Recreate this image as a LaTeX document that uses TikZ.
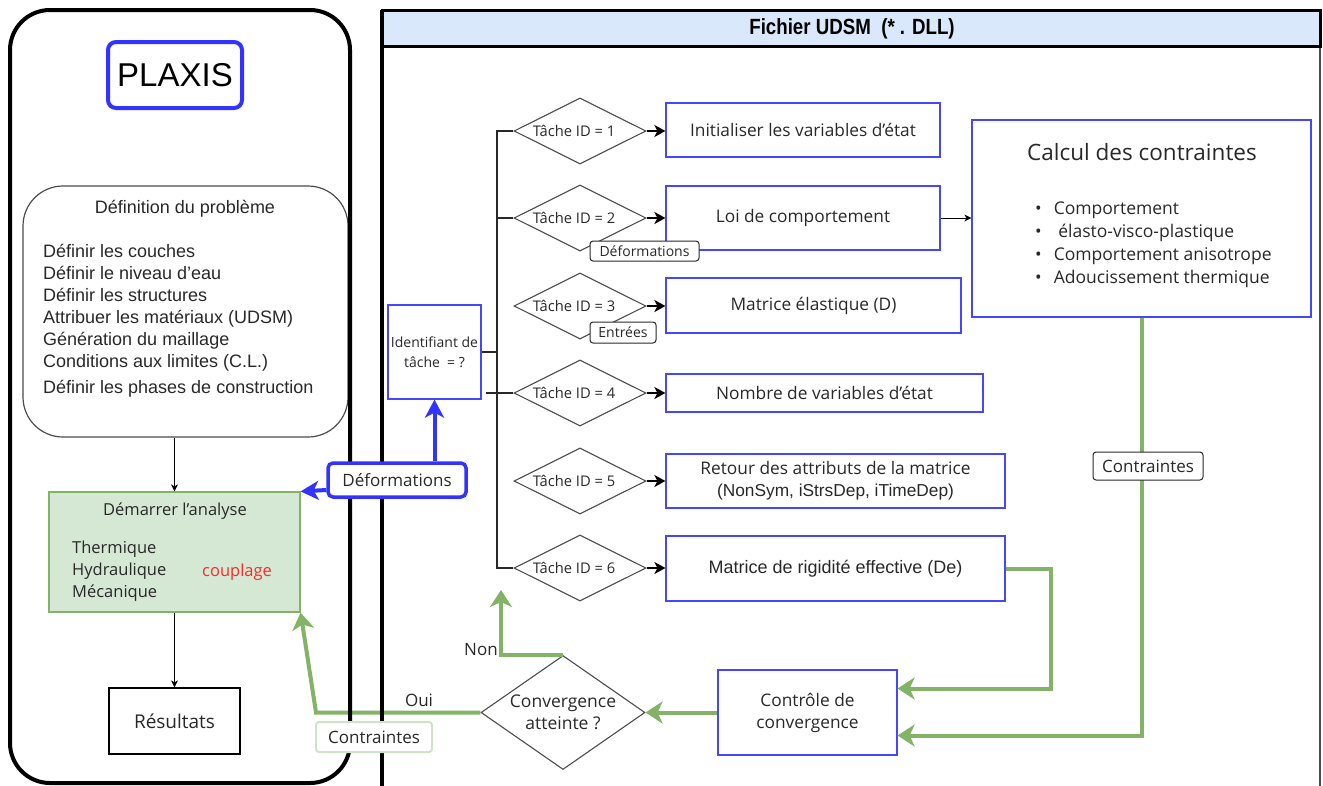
\documentclass[tikz,border=0pt]{standalone}
\usepackage{fontspec}
\setmainfont{Open Sans}
\newfontfamily\arialfont{Liberation Sans}
\newfontfamily\hdrfont[FakeStretch=0.85]{Liberation Sans}
\usepackage{tikz}
\usetikzlibrary{arrows.meta}
\usetikzlibrary{shapes.geometric,positioning,calc}
\definecolor{taskblue}{RGB}{70,70,255}
\definecolor{linkblue}{RGB}{51,51,255}
\definecolor{loopgreen}{RGB}{130,179,102}
\definecolor{startfill}{RGB}{213,232,212}
\definecolor{hdrfill}{RGB}{218,232,252}
\definecolor{paleline}{RGB}{205,228,200}
\definecolor{coupred}{RGB}{255,40,40}
\definecolor{inkgray}{RGB}{40,40,40}
\newcommand{\fs}[2]{\fontsize{#1}{#2}\selectfont}

\begin{document}
\begin{tikzpicture}[x=1pt,y=-1pt,
    task/.style={draw=taskblue,line width=1.2pt,align=center,inner sep=0pt,text=inkgray,font=\fs{17.3}{22}},
    test/.style={diamond,draw=black!70,line width=1.1pt,inner sep=0pt},
    testtxt/.style={font=\fs{14.7}{18},text=inkgray},
    tag/.style={draw=inkgray,rounded corners=3pt,fill=white,inner sep=0pt,line width=1pt,text=inkgray},
    go/.style={-{Stealth[length=11pt,width=12pt,inset=3pt]},line width=2pt},
    thin/.style={-{Stealth[length=7pt,width=7pt,inset=2pt]},line width=0.9pt},
    loop/.style={draw=loopgreen,line width=4pt,-{Stealth[length=17pt,width=22pt,inset=5pt]}},
    bluelink/.style={draw=linkblue,line width=4pt,-{Stealth[length=18pt,width=19pt,inset=5pt]}}]
  \useasboundingbox (0,0) rectangle (1323,785);

  % PLAXIS side
  \node[draw=linkblue,line width=4pt,rounded corners=8pt,minimum width=134pt,minimum height=66pt,
    font=\arialfont\fs{33}{40}] (plaxis) at (175,75) {PLAXIS};
  \node[draw=black!70,line width=1.2pt,rounded corners=40pt,minimum width=325pt,minimum height=251pt] (defprob) at (185.5,311.5) {};
  \node[font=\arialfont\fs{18}{22},text=inkgray] (deftitle) at (185,209) {Définition du problème};
  \node[anchor=west,align=left,inner sep=0pt,font=\arialfont\fs{18}{22},text=inkgray] (deflist) at (43,321)
    {Définir les couches\\Définir le niveau d’eau\\Définir les structures\\Attribuer les matériaux (UDSM)\\
     Génération du maillage\\Conditions aux limites (C.L.)\\[4pt]Définir les phases de construction};
  \node[draw=loopgreen,fill=startfill,line width=1.2pt,minimum width=251pt,minimum height=120pt] (start) at (174.5,552) {};
  \node[font=\fs{16.5}{22},text=inkgray] (starttitle) at (175,511) {Démarrer l’analyse};
  \node[anchor=west,align=left,inner sep=0pt,font=\fs{16.5}{22},text=inkgray] (startlist) at (72,571)
    {Thermique\\Hydraulique\\Mécanique};
  \node[anchor=west,inner sep=0pt,font=\fs{16.5}{22},text=coupred] (coupling) at (202,572) {couplage};
  \node[draw,line width=1.2pt,minimum width=131pt,minimum height=66pt,font=\fs{19}{23},text=inkgray] (result) at (174.5,721) {Résultats};
  \draw[thin] (defprob.south -| start.north) -- (start.north);
  \draw[thin] (start.south) -- (result.north);

  % UDSM side
  \node[task,minimum width=93pt,minimum height=94pt,font=\fs{14}{20}] (idbox) at (434.5,352) {Identifiant de\\tâche\ \ = ?};
  \coordinate (trunk) at (497,0);
  \foreach \i/\y in {1/131,2/218,3/306,4/393,5/481,6/568}{
    \node[test,minimum width=132pt,minimum height=66pt] (d\i) at (580,\y) {};
    \node[testtxt] (dt\i) at ([xshift=-6pt]d\i.center) {Tâche ID = \i};
  }
  \node[task,minimum width=274pt,minimum height=54pt] (b1) at (803,130) {Initialiser les variables d’état};
  \node[task,minimum width=274pt,minimum height=64pt] (b2) at (803,218) {Loi de comportement};
  \node[task,minimum width=295pt,minimum height=55pt] (b3) at (813.5,305.5) {Matrice élastique (D)};
  \node[task,minimum width=317pt,minimum height=38pt] (b4) at (824.5,393) {Nombre de variables d’état};
  \node[task,minimum width=339pt,minimum height=54pt] (b5) at (835.5,481)
    {Retour des attributs de la matrice\\{\arialfont (NonSym, iStrsDep, iTimeDep)}};
  \node[task,minimum width=339pt,minimum height=65pt,font=\arialfont\fs{18}{22}] (b6) at (835.5,568.5) {Matrice de rigidité effective (De)};
  \foreach \i in {1,...,6}
    \draw[go] (d\i.east) -- (d\i.east -| b\i.west);
  \node[tag,minimum width=109pt,minimum height=20pt,font=\fs{14}{16}] (deftag) at (644.5,251) {Déformations};
  \node[tag,minimum width=66pt,minimum height=21pt,font=\fs{14}{16}] (entag) at (623,332.5) {Entrées};

  \draw[line width=2pt,inkgray] (d1.west) -- (d1.west -| trunk) -- (d6.west -| trunk) -- (d6.west);
  \draw[line width=2pt,inkgray] (d2.west) -- (d2.west -| trunk);
  \draw[line width=2pt,inkgray] (idbox.east) -- (idbox.east -| trunk);
  \coordinate (stub4) at (486,393);
  \draw[line width=2pt,inkgray] (stub4) -- (d4.west);

  \node[task,minimum width=339pt,minimum height=197pt] (calc) at (1141.5,218.5) {};
  \node[font=\fs{22.5}{26},text=inkgray] (calctitle) at (1142,152) {Calcul des contraintes};
  \node[anchor=west,inner sep=0pt,font=\fs{17.5}{23},text=inkgray] (calclist) at (1035,244)
    {\begin{tabular}{@{}l@{\hspace{12pt}}l@{}}
      \textbullet & Comportement\\
      \textbullet & \ élasto-visco-plastique\\
      \textbullet & Comportement anisotrope\\
      \textbullet & Adoucissement thermique
    \end{tabular}};
  \draw[thin] (b2.east) -- (b2.east -| calc.west);

  \node[task,minimum width=179pt,minimum height=85pt] (ctrl) at (807.5,712.5) {Contrôle de\\convergence};
  \node[test,minimum width=164pt,minimum height=114pt] (conv) at (563,712.5) {};
  \node[align=center,font=\fs{17.5}{22},text=inkgray] (convtxt) at (conv) {Convergence\\atteinte ?};

  % convergence loop
  \draw[loop] (b6.east) -- ++(45,0) |- ([yshift=24pt]ctrl.east);
  \draw[loop] (calc.south) |- ([yshift=-23pt]ctrl.east);
  \node[tag,minimum width=110pt,minimum height=28pt,font=\fs{17}{20}] (ctag) at (1148,466) {Contraintes};
  \draw[loop] (ctrl.west) -- (conv.east);
  \coordinate (nontip) at (501,590);
  \draw[loop] (conv.north) -| (nontip);
  \node[font=\fs{17}{20},text=inkgray] (nonlbl) at (481,650) {Non};
  \coordinate (ouibend) at (316,712.5);
  \draw[loop] (conv.west) -- (ouibend) -- (start.south east);
  \node[font=\fs{17}{20},text=inkgray] (ouilbl) at (419,700) {Oui};

  % frames
  \draw[line width=4pt,rounded corners=40pt] (10,10) rectangle (350,783);
  \draw[line width=1.5pt,black!70] (1320,10) -- (1320,800);
  \draw[line width=3pt,fill=hdrfill] (382,10) rectangle (1320,46);
  \draw[line width=4pt] (382,10) -- (382,800);
  \node[font=\hdrfont\bfseries\fs{22}{24}] (hdr) at (852,29) {Fichier UDSM\ \ (* . DLL)};

  \node[tag,draw=paleline,line width=2pt,minimum width=116pt,minimum height=30pt,font=\fs{17}{20}] (otag) at (374,737) {Contraintes};
  \node[tag,draw=linkblue,line width=3.5pt,rounded corners=5pt,minimum width=138pt,minimum height=34pt,font=\fs{17}{20}] (bluetag) at (397,480) {Déformations};
  \draw[bluelink] (idbox.south |- bluetag.north) -- (idbox.south);
  \draw[bluelink] ([yshift=-10pt]bluetag.west) -- (start.north east);
\end{tikzpicture}
\end{document}
